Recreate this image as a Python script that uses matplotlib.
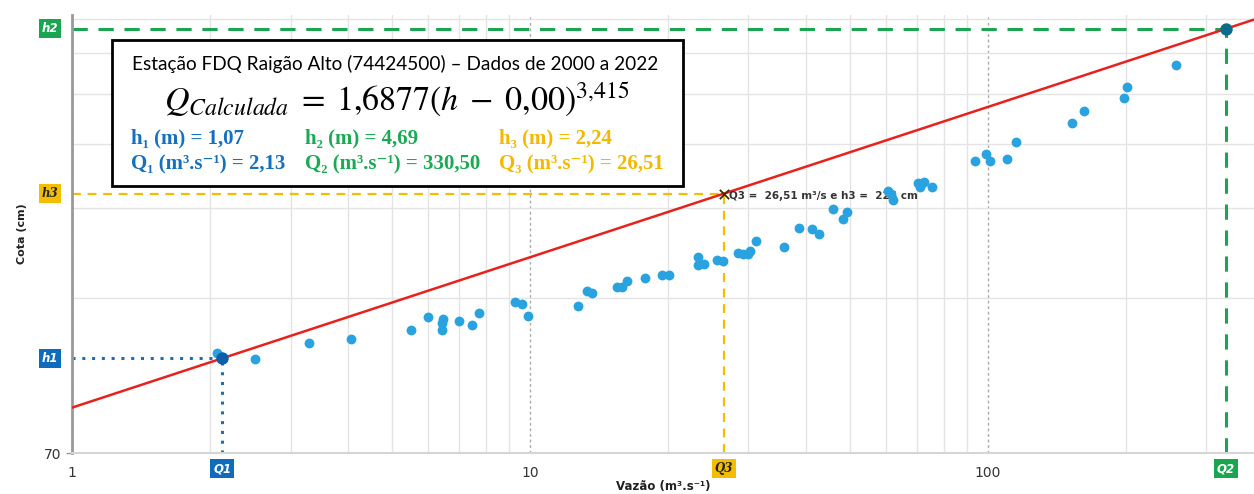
import matplotlib

matplotlib.use("Agg")
import matplotlib.pyplot as plt
import numpy as np
from matplotlib.patches import Rectangle
from matplotlib.ticker import FixedLocator, NullFormatter

# observed discharge (m3/s) and stage (cm)
vazao = [2.07, 2.51, 3.30, 4.06, 5.49, 5.99, 6.47, 6.42, 6.44, 7.01, 7.47, 7.73,
         9.27, 9.62, 9.89, 12.71, 13.30, 13.68, 15.46, 15.86, 16.31, 17.80, 19.42,
         20.15, 23.24, 23.31, 24.03, 25.61, 26.42, 28.46, 29.22, 30.27, 29.92, 31.10,
         35.81, 38.73, 41.22, 42.76, 45.95, 49.15, 48.18, 60.57, 61.31, 61.93, 70.44,
         72.50, 71.05, 75.56, 93.5, 99.0, 100.9, 110.2, 115.3, 152.6, 162.3, 198.5,
         200.9, 257.7]
cota = [109.8, 106.5, 114.5, 116.7, 121.5, 128.6, 127.5, 125.6, 121.5, 126.5, 124.4,
        131.3, 137.6, 136.5, 129.6, 135.5, 144.7, 143.6, 147.6, 147.6, 151.6, 153.4,
        155.7, 155.7, 168.6, 162.4, 163.6, 166.5, 165.6, 171.9, 170.6, 173.2, 170.9,
        181.1, 176.6, 191.7, 190.9, 186.9, 209.1, 206.0, 199.6, 227.0, 223.6, 217.7,
        235.3, 235.7, 231.1, 231.1, 259.6, 267.2, 259.3, 262.0, 282.7, 307.9, 324.9,
        343.5, 360.9, 398.8]

# rating curve Q = a (h - h0)^b, h in m
a, b, h0 = 1.6877, 3.415, 0.0
q_ref = [2.13, 330.50, 26.51]
h_ref = [107, 469, 224]   # cm
ref_names = ["1", "2", "3"]
ref_colors = ["#0f6cbd", "#1aa650", "#f5bd00"]
line_colors = ["#1f6fb0", "#1aa650", "#f5bd00"]
ref_text = ["white", "white", "#222222"]

plt.rcParams["mathtext.fontset"] = "stix"

fig = plt.figure(figsize=(12.54, 4.94), dpi=100)
ax = fig.add_axes([72 / 1254, 41 / 494, 1182 / 1254, 438 / 494])
ax.set_xscale("log")
ax.set_yscale("log")
ax.set_xlim(1, 381)
ax.set_ylim(70, 499)

# grid
ax.xaxis.set_major_locator(FixedLocator([1, 10, 100]))
ax.xaxis.set_minor_locator(FixedLocator([k * d for d in (1, 10, 100) for k in range(2, 10)]))
ax.xaxis.set_minor_formatter(NullFormatter())
ax.set_xticklabels(["1", "10", "100"])
ax.yaxis.set_major_locator(FixedLocator([70]))
ax.yaxis.set_minor_locator(FixedLocator([140, 210, 280, 350, 420, 490]))
ax.yaxis.set_minor_formatter(NullFormatter())
ax.set_yticklabels(["70"])
ax.grid(True, which="minor", color="#e4e4e4", lw=1)
ax.grid(True, which="major", axis="x", color="#aaaaaa", lw=1, ls=(0, (2, 2)))
ax.tick_params(axis="x", which="both", length=0, pad=9, labelsize=10, colors="#333333")
ax.tick_params(axis="y", which="major", length=4, width=1, color="#999999",
               labelsize=10, colors="#333333")
ax.tick_params(axis="y", which="minor", length=0)
for s in ("top", "right"):
    ax.spines[s].set_visible(False)
ax.spines["left"].set_color("#999999")
ax.spines["left"].set_linewidth(2)
ax.spines["bottom"].set_color("#d5d5d5")
ax.spines["bottom"].set_linewidth(1.5)

# rating curve
q_line = np.array([1, 381])
h_line = ((q_line / a) ** (1 / b) + h0) * 100
ax.plot(q_line, h_line, color="#e8211c", lw=1.8, zorder=3)

ax.scatter(vazao, cota, s=50, color="#29a3e0", zorder=4, linewidths=0)

# reference lines
styles = [(0, (1, 2.2)), (0, (5, 3.5)), (0, (4, 3))]
widths = [2.2, 2.2, 1.6]
for q, h, c, st, w in zip(q_ref, h_ref, line_colors, styles, widths):
    ax.plot([1, q], [h, h], color=c, ls=st, lw=w, zorder=2, clip_on=False)
    ax.plot([q, q], [70, h], color=c, ls=st, lw=w, zorder=2, clip_on=False)
ax.scatter([q_ref[0]], [h_ref[0]], s=80, color="#0b5ea8", zorder=5, linewidths=0)
ax.scatter([q_ref[1]], [h_ref[1]], s=80, color="#0d6c8c", zorder=5, linewidths=0,
           clip_on=False)
ax.scatter([q_ref[2]], [h_ref[2]], s=45, marker="x", color="#3a3000", lw=1.3, zorder=5)
ax.annotate("Q3 =  26,51 m³/s e h3 =  224 cm", (q_ref[2], h_ref[2]),
            xytext=(4, -2), textcoords="offset points", va="center", ha="left",
            fontsize=7.5, fontweight="bold", color="#333333")

# axis flags
for q, h, n, c, tc in zip(q_ref, h_ref, ref_names, ref_colors, ref_text):
    fam = "DejaVu Serif" if n == "3" else "DejaVu Sans"
    box = dict(boxstyle="square,pad=0.25", fc=c, ec="none")
    ax.text(-0.0186, h, "h" + n, transform=ax.get_yaxis_transform(), ha="center",
            va="center", fontsize=8.5, fontweight="bold", style="italic", color=tc,
            family=fam, bbox=box, clip_on=False)
    ax.text(q, -0.036, "Q" + n, transform=ax.get_xaxis_transform(), ha="center",
            va="center", fontsize=8.5, fontweight="bold", style="italic", color=tc,
            family=fam, bbox=box, clip_on=False)

ax.set_ylabel("Cota (cm)", fontsize=8, fontweight="bold", color="#222222", labelpad=12)
ax.set_xlabel("Vazão (m³.s⁻¹)", fontsize=8.5, fontweight="bold", color="#222222",
              labelpad=0)

# info box
fig.patches.append(Rectangle((112 / 1254, 308 / 494), 571 / 1254, 146 / 494,
                             transform=fig.transFigure, fc="white", ec="black",
                             lw=2, zorder=10))
fig.text(395 / 1254, 1 - 64 / 494,
         "Estação FDQ Raigão Alto (74424500) – Dados de 2000 a 2022",
         ha="center", va="center", fontsize=13.7, family="Lato", zorder=11)
fig.text(397 / 1254, 1 - 100 / 494,
         r"$Q_{Calculada}\;=\;1{,}6877(h\;-\;0{,}00)^{3{,}415}$",
         ha="center", va="center", fontsize=24.5, zorder=11)
serif = ["Liberation Serif", "DejaVu Serif"]
cols = [131 / 1254, 305 / 1254, 499 / 1254]
h_txt = ["h₁ (m) = 1,07", "h₂ (m) = 4,69", "h₃ (m) = 2,24"]
q_txt = ["Q₁ (m³.s⁻¹) = 2,13", "Q₂ (m³.s⁻¹) = 330,50", "Q₃ (m³.s⁻¹) = 26,51"]
txt_colors = ["#1570c0", "#1aaa55", "#f5b800"]
for x, ht, qt, c in zip(cols, h_txt, q_txt, txt_colors):
    fig.text(x, 1 - 138 / 494, ht, ha="left", va="center", fontsize=15,
             fontweight="bold", color=c, family=serif, zorder=11)
    fig.text(x, 1 - 164 / 494, qt, ha="left", va="center", fontsize=15,
             fontweight="bold", color=c, family=serif, zorder=11)

fig.savefig("out.png", dpi=100)
